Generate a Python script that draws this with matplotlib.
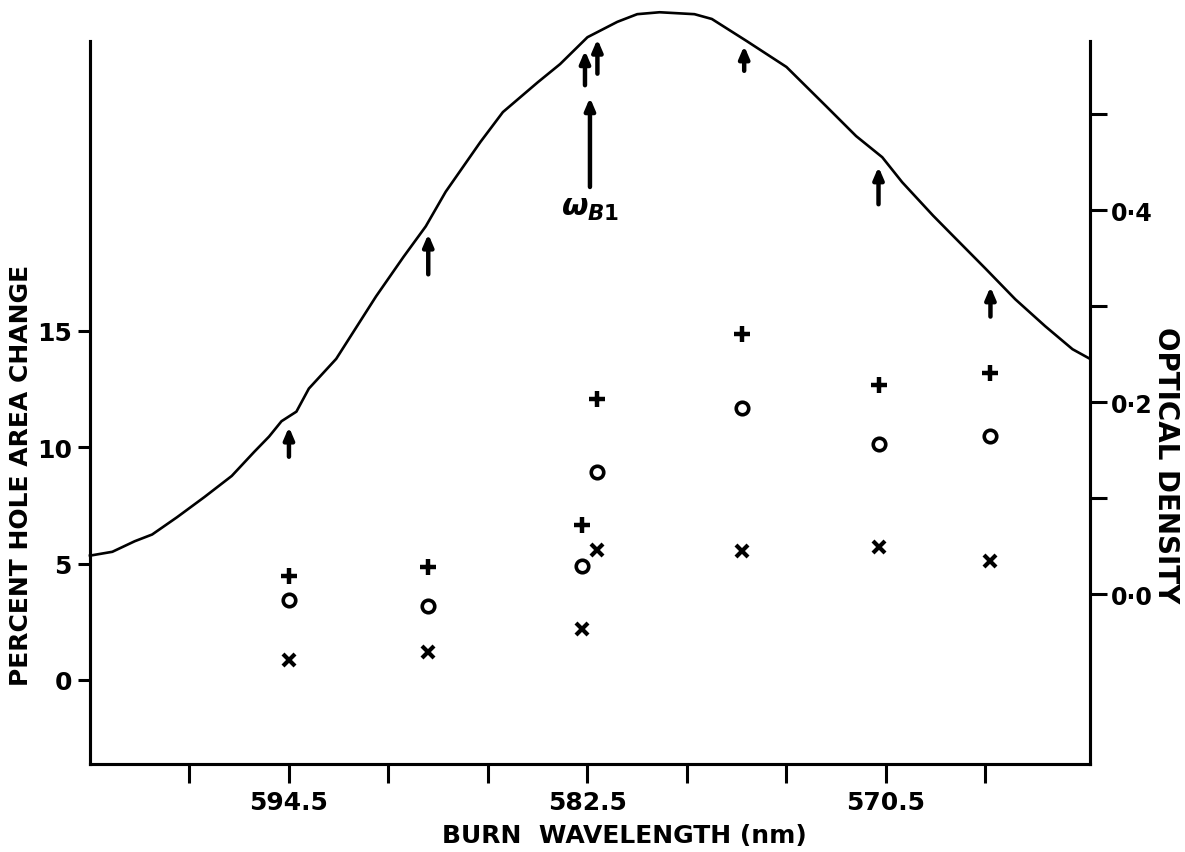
import matplotlib.pyplot as plt

# absorption curve (optical density vs wavelength)
curve_wl = [602.5, 601.6, 600.7, 600.0, 599.0, 597.9, 596.8, 595.9, 595.3, 594.8,
            594.2, 593.7, 592.6, 591.0, 589.9, 589.0, 588.2, 586.8, 585.9, 584.5,
            583.6, 582.5, 581.3, 580.5, 579.6, 578.2, 577.5, 576.1, 574.5, 572.9,
            571.7, 570.65, 569.85, 568.6, 567.8, 566.5, 565.3, 564.1, 563.0, 562.3]
curve_od = [0.040, 0.044, 0.055, 0.062, 0.080, 0.101, 0.123, 0.148, 0.164, 0.180,
            0.190, 0.214, 0.245, 0.310, 0.351, 0.383, 0.419, 0.471, 0.502, 0.533,
            0.552, 0.580, 0.596, 0.604, 0.606, 0.604, 0.599, 0.576, 0.549, 0.508,
            0.477, 0.455, 0.429, 0.394, 0.373, 0.339, 0.307, 0.279, 0.255, 0.245]

# hole area change at each burn wavelength
burn_wl = [594.5, 588.9, 582.7, 582.1, 576.3, 570.8, 566.3]
plus_vals = [4.47, 4.86, 6.67, 12.08, 14.87, 12.68, 13.19]
circle_vals = [3.44, 3.18, 4.91, 8.95, 11.69, 10.14, 10.50]
cross_vals = [0.86, 1.20, 2.19, 5.60, 5.54, 5.72, 5.13]

# burn arrows: wavelength, tail OD, head OD
arrow_wl = [594.5, 588.9, 582.6, 582.1, 582.4, 576.2, 570.8, 566.3]
arrow_tail = [0.143, 0.333, 0.530, 0.542, 0.424, 0.545, 0.406, 0.289]
arrow_head = [0.174, 0.375, 0.566, 0.578, 0.517, 0.571, 0.445, 0.320]

xticks = [598.5, 594.5, 590.5, 586.5, 582.5, 578.5, 574.5, 570.5, 566.5]
xticklabels = ["", "594.5", "", "", "582.5", "", "", "570.5", ""]
yticks = [0, 5, 10, 15]
odticks = [0.0, 0.1, 0.2, 0.3, 0.4, 0.5]
odticklabels = ["0·0", "", "0·2", "", "0·4", ""]

plt.rcParams["font.family"] = "DejaVu Sans"
plt.rcParams["font.weight"] = "bold"

fig = plt.figure(figsize=(11.85, 8.53), dpi=100)
ax = fig.add_axes([0.0759, 0.1032, 0.8439, 0.8475])
ax2 = ax.twinx()

ax.set_xlim(602.5, 562.3)
ax.set_ylim(-3.61, 27.46)
ax2.set_ylim(-0.177, 0.576)

ax2.plot(curve_wl, curve_od, color="black", lw=1.9, clip_on=False)

ax.plot(burn_wl, plus_vals, ls="", marker="+", ms=12, mew=3.2, color="black")
ax.plot(burn_wl, circle_vals, ls="", marker="o", ms=9, mew=2.6, mfc="none", color="black")
ax.plot(burn_wl, cross_vals, ls="", marker="x", ms=9, mew=3.0, color="black")

for wl, t, h in zip(arrow_wl, arrow_tail, arrow_head):
    ax2.annotate("", xy=(wl, h), xytext=(wl, t), annotation_clip=False,
                 arrowprops=dict(arrowstyle="-|>,head_length=0.7,head_width=0.3",
                                 color="black", lw=3.2, shrinkA=0, shrinkB=0))
ax2.text(582.4, 0.418, r"$\omega_{B1}$", fontsize=22, ha="center", va="top")

for a in (ax, ax2):
    a.spines["top"].set_visible(False)
    for s in a.spines.values():
        s.set_linewidth(2.2)

ax.set_xticks(xticks)
ax.set_xticklabels(xticklabels)
ax.set_yticks(yticks)
ax2.set_yticks(odticks)
ax2.set_yticklabels(odticklabels)

ax.tick_params(axis="x", direction="out", length=14, width=2.2, labelsize=18, pad=5)
ax.tick_params(axis="y", direction="out", length=9, width=2.2, labelsize=18, pad=4)
ax2.tick_params(axis="y", direction="out", length=12, width=2.2, labelsize=17, pad=3)

ax.set_xlabel("BURN  WAVELENGTH (nm)", fontsize=18, fontweight="bold")
ax.xaxis.set_label_coords(0.534, -0.082)
ax.set_ylabel("PERCENT HOLE AREA CHANGE", fontsize=18, fontweight="bold")
ax.yaxis.set_label_coords(-0.057, 0.401)
ax2.set_ylabel("OPTICAL DENSITY", fontsize=20, fontweight="bold", rotation=270, va="center")
ax2.yaxis.set_label_coords(1.076, 0.415)

fig.savefig("out.png", dpi=100)
